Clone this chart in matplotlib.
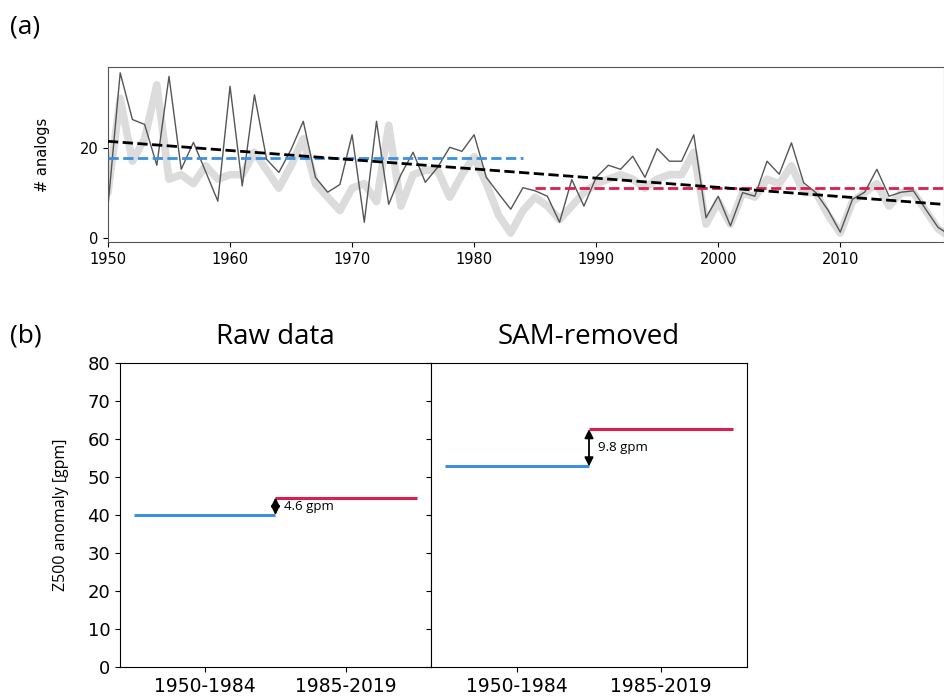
import numpy as np
import matplotlib
matplotlib.use("Agg")
import matplotlib.pyplot as plt

# --- panel (a): number of analogs per year ---
years = np.arange(1950, 2020)
analogs = [7, 36.7, 26.3, 25.2, 16.1, 35.9, 15.2, 21.2, 14.7, 8.1,
           33.7, 11.5, 31.8, 17.4, 14.5, 19.6, 25.9, 13.4, 10.1, 11.8,
           22.9, 3.4, 25.9, 7.4, 14.0, 19.0, 12.3, 15.6, 20.1, 19.2,
           22.9, 13.4, 9.8, 6.3, 11.1, 10.4, 9.2, 3.4, 12.9, 7.0,
           13.4, 16.1, 15.2, 18.1, 13.4, 19.8, 17.0, 17.0, 22.9, 4.4,
           9.2, 2.6, 10.0, 9.2, 17.0, 14.1, 21.1, 12.2, 10.0, 6.1,
           1.2, 8.5, 10.1, 15.2, 9.2, 10.1, 10.4, 6.3, 2.3, 0.5]
analogs_sam = [10, 31, 17, 22, 34, 13, 14, 12, 16, 13,
               14, 14, 19, 15, 11, 16, 22, 12, 9, 6,
               11, 12, 8, 25, 7, 14, 15, 15, 9, 14,
               18, 12, 5, 1, 6, 9, 7, 4, 7, 10,
               12, 13, 14, 13, 11, 13, 14, 14, 19, 3,
               8, 3, 10, 9, 13, 12, 16, 10, 10, 5,
               1, 8, 10, 12, 7, 10, 10, 6, 2, 0]

# --- panel (b): period means ---
periods = ["1950-1984", "1985-2019"]
raw_means = [40.0, 44.6]
sam_removed_means = [52.8, 62.6]
titles = ["Raw data", "SAM-removed"]

blue = "#3d8fe0"
red = "#dc1e4e"

fig = plt.figure(figsize=(9.44, 7.0), dpi=100)

# (a)
ax = fig.add_axes([0.1144, 0.6543, 0.8856, 0.25])
analogs = np.array(analogs)
ax.plot(years, analogs_sam, color="#dcdcdc", lw=5.5, solid_capstyle="round", zorder=1)
ax.plot(years, analogs, color="#555555", lw=1.0, zorder=2)

early = years <= 1984
late = years >= 1985
ax.plot([1950, 1984], [analogs[early].mean()] * 2, ls="--", color=blue, lw=2, zorder=3)
ax.plot([1985, 2019], [analogs[late].mean()] * 2, ls="--", color=red, lw=2, zorder=3)
slope, icpt = np.polyfit(years, analogs, 1)
ax.plot(years, slope * years + icpt, ls="--", color="black", lw=2, zorder=4)

ax.set_xlim(1950, 2018.5)
ax.set_ylim(-1, 38)
ax.set_yticks([0, 20])
ax.set_xticks(np.arange(1950, 2020, 10))
ax.tick_params(labelsize=10.5)
ax.set_ylabel("# analogs", fontsize=10.5)
ax.yaxis.set_label_coords(-0.069, 0.5)
for s in ax.spines.values():
    s.set_color("#555555")

fig.text(0.011, 0.962, "(a)", fontsize=19, family="Open Sans", va="center")
fig.text(0.011, 0.52, "(b)", fontsize=19, family="Open Sans", va="center")

# (b)
axl = fig.add_axes([0.1271, 0.0471, 0.3294, 0.4343])
axr = fig.add_axes([0.4566, 0.0471, 0.3347, 0.4343], sharey=axl)

for a, vals, title in zip([axl, axr], [raw_means, sam_removed_means], titles):
    x = np.arange(len(periods))
    a.hlines(vals[0], x[0] - 0.5, x[0] + 0.5, color=blue, lw=2.2)
    a.hlines(vals[1], x[1] - 0.5, x[1] + 0.5, color=red, lw=2.2)
    a.annotate("", xy=(0.5, vals[1]), xytext=(0.5, vals[0]),
               arrowprops=dict(arrowstyle="<|-|>", color="black", lw=1.3,
                               mutation_scale=13, shrinkA=0, shrinkB=0))
    a.text(0.56, (vals[0] + vals[1]) / 2, f"{vals[1] - vals[0]:.1f} gpm",
           fontsize=9.5, family="Open Sans", va="center")
    a.set_xlim(-0.6, 1.6)
    a.set_xticks(x)
    a.set_xticklabels(periods, fontsize=13.5)
    a.set_title(title, fontsize=20, family="Open Sans", pad=14)

axl.set_ylim(0, 80)
axl.set_yticks(np.arange(0, 81, 10))
axl.tick_params(axis="y", labelsize=13)
axl.set_ylabel("Z500 anomaly [gpm]", fontsize=11.5, family="Open Sans")
axl.yaxis.set_label_coords(-0.165, 0.5)
axr.tick_params(axis="y", labelleft=False)

fig.savefig("out.png", dpi=100)
